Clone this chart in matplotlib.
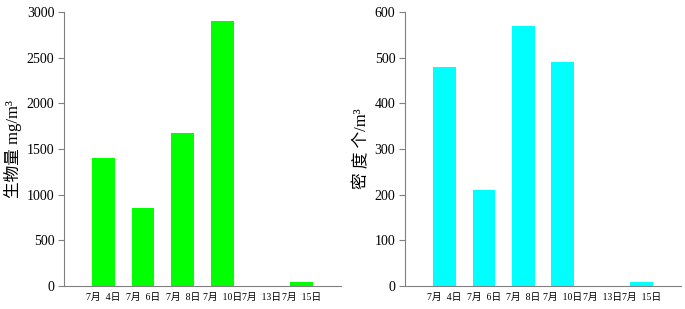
import matplotlib.pyplot as plt
import numpy as np

plt.rcParams['font.family'] = ['Liberation Serif', 'Noto Sans CJK SC']

# data
dates = ['7月  4日', '7月  6日', '7月  8日', '7月  10日', '7月  13日', '7月  15日']
biomass = [1400, 850, 1675, 2900, 0, 45]
density = [480, 210, 570, 490, 0, 8]

fig = plt.figure(figsize=(6.85, 3.09), dpi=100)
ax1 = fig.add_axes([64/685, 23/309, 277/685, 274/309])
ax2 = fig.add_axes([405/685, 23/309, 276/685, 274/309])

x = np.arange(len(dates))

def style(ax, vals, color, ymax, step, ylabel):
    ax.bar(x, vals, width=0.57, color=color)
    ax.set_xlim(-1.0, 6.0)
    ax.set_ylim(0, ymax)
    ax.set_yticks(np.arange(0, ymax + 1, step))
    ax.set_xticks(x)
    ax.set_xticklabels(dates, fontsize=7)
    ax.tick_params(axis='x', length=0, pad=5)
    ax.tick_params(axis='y', labelsize=10, length=4, color='#808080', pad=3)
    for s in ['top', 'right']:
        ax.spines[s].set_visible(False)
    for s in ['left', 'bottom']:
        ax.spines[s].set_color('#808080')
    ax.set_ylabel(ylabel, fontsize=12, labelpad=3)

style(ax1, biomass, '#00ff00', 3000, 500, '生物量 mg/m³')
style(ax2, density, '#00ffff', 600, 100, '密 度 个/m³')

fig.savefig('out.png', dpi=100)
